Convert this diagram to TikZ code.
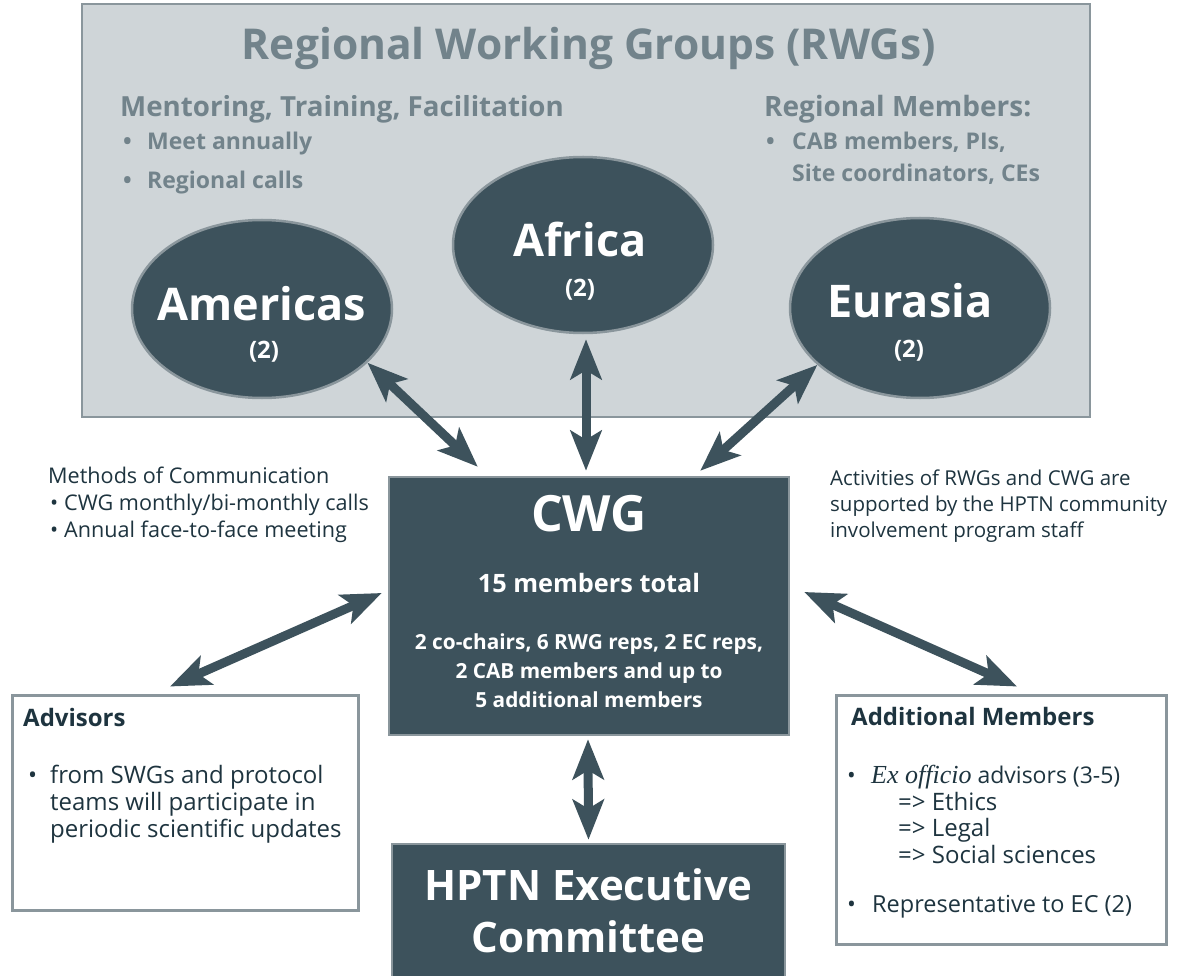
\documentclass[tikz,border=0pt]{standalone}
\usepackage{fontspec}
\setmainfont{Open Sans}
\newfontfamily\serifit{Liberation Serif}
\usetikzlibrary{arrows.meta,shapes.geometric}
\definecolor{dk}{RGB}{61,82,92}
\definecolor{bordergray}{RGB}{138,150,156}
\definecolor{bggray}{RGB}{207,213,216}
\definecolor{titlegray}{RGB}{114,131,139}
\definecolor{txtdark}{RGB}{30,52,63}
\newcommand{\fs}[1]{\fontsize{#1}{#1}\selectfont}
\newcommand{\bul}[1]{\makebox[#1][l]{\textbullet}}
\tikzset{
  darkbox/.style={rectangle, fill=dk, draw=bordergray, line width=2.5pt, inner sep=0pt},
  whitebox/.style={rectangle, fill=white, draw=bordergray, line width=3pt, inner sep=0pt},
  region/.style={ellipse, fill=dk, draw=bordergray, line width=2.5pt, inner sep=0pt},
  txt/.style={inner sep=0pt, anchor=base west},
  ctxt/.style={inner sep=0pt, anchor=base, text=white},
  biarrow/.style={draw=dk, line width=9pt,
    {Stealth[length=40pt,width=31pt,inset=9pt,fill=dk]}-{Stealth[length=40pt,width=31pt,inset=9pt,fill=dk]}}
}
\begin{document}
\begin{tikzpicture}[x=1pt,y=-1pt]
\useasboundingbox[fill=white] (0,0) rectangle (1178,976);

% Regional working groups panel
\node[rectangle, fill=bggray, draw=bordergray, line width=2.5pt, minimum width=1008pt, minimum height=413pt, inner sep=0pt] (rwg) at (586,210.5) {};
\node[inner sep=0pt, anchor=base, text=titlegray, font=\fs{42.5}\bfseries] (title) at (589,60) {Regional Working Groups (RWGs)};
\node[txt, text=titlegray, font=\fs{27.7}\bfseries] (ment) at (120,117) {Mentoring, Training, Facilitation};
\node[txt, text=titlegray, font=\fs{23}\bfseries] (meet) at (123,150) {\bul{24pt}Meet annually};
\node[txt, text=titlegray, font=\fs{23}\bfseries] (calls) at (123,189) {\bul{24pt}Regional calls};
\node[txt, text=titlegray, font=\fs{28}\bfseries] (regmem) at (764,117) {Regional Members:};
\node[txt, text=titlegray, font=\fs{23}\bfseries] (cab) at (766,150) {\bul{26pt}CAB members, PIs,};
\node[txt, text=titlegray, font=\fs{23}\bfseries] (site) at (792,182) {Site coordinators, CEs};

% Regions
\node[region, minimum width=260pt, minimum height=178pt] (americas) at (262,309) {};
\node[region, minimum width=260pt, minimum height=176pt] (africa) at (583,245) {};
\node[region, minimum width=260pt, minimum height=180pt] (eurasia) at (920,308) {};
\node[ctxt, font=\fs{45}\bfseries] (amt) at (262,320) {Americas};
\node[ctxt, font=\fs{24}\bfseries] (amn) at (264,358) {(2)};
\node[ctxt, font=\fs{45}\bfseries] (aft) at (580,257) {Africa};
\node[ctxt, font=\fs{24}\bfseries] (afn) at (580,297) {(2)};
\node[ctxt, font=\fs{45}\bfseries] (eut) at (910,318) {Eurasia};
\node[ctxt, font=\fs{24}\bfseries] (eun) at (909,357) {(2)};

% CWG
\node[darkbox, minimum width=400pt, minimum height=258pt] (cwg) at (589,606) {};
\node[ctxt, font=\fs{50}\bfseries] (cwgt) at (589,531) {CWG};
\node[ctxt, font=\fs{25.3}\bfseries] (cwg1) at (589,592) {15 members total};
\node[ctxt, font=\fs{20.8}\bfseries] (cwg2) at (589,649) {2 co-chairs, 6 RWG reps, 2 EC reps,};
\node[ctxt, font=\fs{20.8}\bfseries] (cwg3) at (589,678) {2 CAB members and up to};
\node[ctxt, font=\fs{20.8}\bfseries] (cwg4) at (589,707) {5 additional members};

% HPTN EC
\node[darkbox, minimum width=393pt, minimum height=140pt] (ec) at (588.5,914) {};
\node[ctxt, font=\fs{42}\bfseries] (ec1) at (588.5,900) {HPTN Executive};
\node[ctxt, font=\fs{42}\bfseries] (ec2) at (588.5,952) {Committee};

% Side notes
\node[txt, text=txtdark, font=\fs{21.6}] (meth) at (48,483) {Methods of Communication};
\node[txt, text=txtdark, font=\fs{21.6}] (meth1) at (50,510) {\bul{14pt}CWG monthly/bi-monthly calls};
\node[txt, text=txtdark, font=\fs{21.6}] (meth2) at (50,537) {\bul{14pt}Annual face-to-face meeting};
\node[txt, text=txtdark, font=\fs{20.5}] (act1) at (830,485) {Activities of RWGs and CWG are};
\node[txt, text=txtdark, font=\fs{20.5}] (act2) at (830,511) {supported by the HPTN community};
\node[txt, text=txtdark, font=\fs{20.5}] (act3) at (830,537) {involvement program staff};

% Advisors
\node[whitebox, minimum width=346pt, minimum height=215pt] (adv) at (185,802.5) {};
\node[txt, text=txtdark, font=\fs{24}\bfseries] (advt) at (23,726) {Advisors};
\node[txt, text=txtdark, font=\fs{24}] (adv1) at (28,783) {\bul{22pt}from SWGs and protocol};
\node[txt, text=txtdark, font=\fs{24}] (adv2) at (50,810) {teams will participate in};
\node[txt, text=txtdark, font=\fs{24}] (adv3) at (50,837) {periodic scientific updates};

% Additional members
\node[whitebox, minimum width=330pt, minimum height=249pt] (addm) at (1001,819.5) {};
\node[txt, text=txtdark, font=\fs{24}\bfseries] (addt) at (851,725) {Additional Members};
\node[txt, text=txtdark, font=\fs{23}] (add1) at (847,783) {\bul{24pt}{\serifit\fontsize{26}{26}\selectfont\itshape Ex officio} advisors (3-5)};
\node[txt, text=txtdark, font=\fs{24}] (add2) at (898,810) {=> Ethics};
\node[txt, text=txtdark, font=\fs{24}] (add3) at (898,836) {=> Legal};
\node[txt, text=txtdark, font=\fs{24}] (add4) at (898,863) {=> Social sciences};
\node[txt, text=txtdark, font=\fs{23.5}] (add5) at (847,912) {\bul{25pt}Representative to EC (2)};

% Connectors
\draw[biarrow] (americas.-27.4) -- ([shift={(90,-9)}]cwg.north west);
\draw[biarrow] ([shift={(3,5)}]africa.south) -- ([shift={(-3,-5)}]cwg.north);
\draw[biarrow] (eurasia.-151.4) -- ([shift={(-90,-5)}]cwg.north east);
\draw[biarrow] ([shift={(-15,-7)}]adv.north) -- ([shift={(-6,-13)}]cwg.west);
\draw[biarrow] ([shift={(14,-14)}]cwg.east) -- ([shift={(16,-7)}]addm.north);
\draw[biarrow] ([shift={(-1,3)}]cwg.south) -- ([shift={(0,-3)}]ec.north);
\end{tikzpicture}
\end{document}
